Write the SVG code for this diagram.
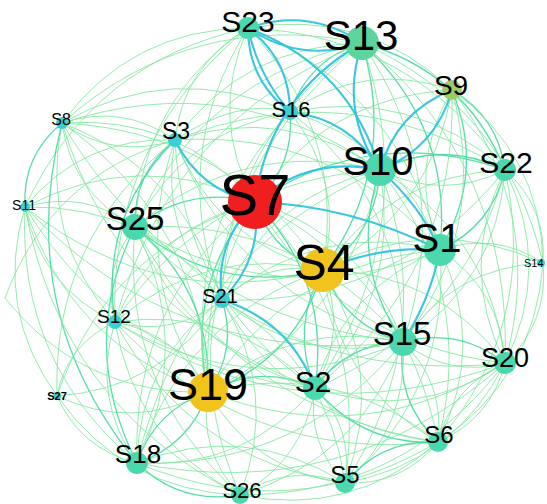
<svg xmlns="http://www.w3.org/2000/svg" width="547" height="504" viewBox="0 0 547 504">
  <style>
    .e path { fill: none; stroke-linecap: round; }
    .g { stroke: #80e89e; stroke-width: 1; opacity: 0.85; }
    .t { stroke: #44d8a0; stroke-width: 1.3; opacity: 0.9; }
    .c { stroke: #2fc3dc; stroke-width: 2.1; opacity: 0.95; }
    text { font-family: "Liberation Sans", Arial, sans-serif; fill: #000; text-anchor: middle; }
    .red { fill: #f01e1e; }
    .gold { fill: #f0c31d; }
    .olive { fill: #9fcb66; }
    .jade { fill: #5dd49b; }
    .teal { fill: #4bd8ae; }
    .cyan { fill: #3bcfd4; }
  </style>
  <rect width="547" height="504" fill="#fff"/>

  <!-- connectors -->
  <g id="edges" class="e">
    <!-- light curved links -->
    <path class="g" d="M248 28 Q208 117 255 202"/>
    <path class="t" d="M255 202 Q295 166 290 112"/>
    <path class="g" d="M255 202 Q178 114 62 123"/>
    <path class="g" d="M255 202 Q139 147 25 207"/>
    <path class="t" d="M255 202 Q189 185 135 227"/>
    <path class="g" d="M255 202 Q155 227 115 322"/>
    <path class="t" d="M255 202 Q184 285 208 392"/>
    <path class="t" d="M315 388 Q331 280 255 202"/>
    <path class="t" d="M255 202 Q272 253 323 270"/>
    <path class="g" d="M403 342 Q364 235 255 202"/>
    <path class="g" d="M255 202 Q340 345 505 363"/>
    <path class="g" d="M438 442 Q406 276 255 202"/>
    <path class="t" d="M505 170 Q372 124 255 202"/>
    <path class="g" d="M452 90 Q325 97 255 202"/>
    <path class="g" d="M255 202 Q131 303 137 463"/>
    <path class="g" d="M345 483 Q370 320 255 202"/>
    <path class="g" d="M255 202 Q174 345 240 495"/>
    <path class="g" d="M255 202 Q107 250 57 396"/>

    <path class="g" d="M323 270 Q346 130 248 28"/>
    <path class="t" d="M323 270 Q399 166 362 43"/>
    <path class="g" d="M175 140 Q216 242 323 270"/>
    <path class="g" d="M323 270 Q229 131 62 123"/>
    <path class="g" d="M25 207 Q158 313 323 270"/>
    <path class="t" d="M135 227 Q218 296 323 270"/>
    <path class="g" d="M323 270 Q206 244 115 322"/>
    <path class="g" d="M323 270 Q265 260 222 300"/>
    <path class="t" d="M208 392 Q296 360 323 270"/>
    <path class="t" d="M323 270 Q290 327 315 388"/>
    <path class="g" d="M315 388 Q348 331 323 270"/>
    <path class="t" d="M323 270 Q345 326 403 342"/>
    <path class="g" d="M505 363 Q437 271 323 270"/>
    <path class="g" d="M323 270 Q337 385 438 442"/>
    <path class="g" d="M345 483 Q387 371 323 270"/>
    <path class="g" d="M505 170 Q389 175 323 270"/>
    <path class="g" d="M323 270 Q432 212 452 90"/>
    <path class="g" d="M323 270 Q182 320 137 463"/>
    <path class="g" d="M543 263 Q431 212 323 270"/>
    <path class="t" d="M323 270 Q376 234 380 170"/>
    <path class="g" d="M323 270 Q346 183 290 112"/>

    <path class="g" d="M175 140 Q128 274 208 392"/>
    <path class="g" d="M208 392 Q202 221 62 123"/>
    <path class="g" d="M25 207 Q70 345 208 392"/>
    <path class="t" d="M208 392 Q213 291 135 227"/>
    <path class="g" d="M208 392 Q179 334 115 322"/>
    <path class="g" d="M57 396 Q133 432 208 392"/>
    <path class="t" d="M208 392 Q155 410 137 463"/>
    <path class="t" d="M137 463 Q190 445 208 392"/>
    <path class="g" d="M208 392 Q198 451 240 495"/>
    <path class="g" d="M208 392 Q254 472 345 483"/>
    <path class="g" d="M438 442 Q335 360 208 392"/>
    <path class="t" d="M315 388 Q260 363 208 392"/>
    <path class="g" d="M403 342 Q293 318 208 392"/>
    <path class="g" d="M208 392 Q364 452 505 363"/>
    <path class="g" d="M440 250 Q288 263 208 392"/>
    <path class="g" d="M208 392 Q349 324 380 170"/>
    <path class="t" d="M208 392 Q238 349 222 300"/>
    <path class="g" d="M222 300 Q192 342 208 392"/>
    <path class="g" d="M362 43 Q198 179 208 392"/>
    <path class="g" d="M290 112 Q179 231 208 392"/>

    <path class="g" d="M362 43 Q244 45 175 140"/>
    <path class="g" d="M362 43 Q192 8 62 123"/>
    <path class="t" d="M362 43 Q309 59 290 112"/>
    <path class="t" d="M505 170 Q465 71 362 43"/>
    <path class="t" d="M440 250 Q453 127 362 43"/>
    <path class="g" d="M362 43 Q202 78 135 227"/>
    <path class="g" d="M403 342 Q457 182 362 43"/>
    <path class="g" d="M505 363 Q513 167 362 43"/>
    <path class="g" d="M543 263 Q507 108 362 43"/>
    <path class="g" d="M362 43 Q169 121 115 322"/>
    <path class="g" d="M362 43 Q228 136 222 300"/>
    <path class="g" d="M315 388 Q425 227 362 43"/>

    <path class="g" d="M380 170 Q285 104 175 140"/>
    <path class="g" d="M380 170 Q243 137 135 227"/>
    <path class="t" d="M505 170 Q442 139 380 170"/>
    <path class="g" d="M380 170 Q442 201 505 170"/>
    <path class="t" d="M380 170 Q348 262 403 342"/>
    <path class="g" d="M505 363 Q491 235 380 170"/>
    <path class="g" d="M315 388 Q402 295 380 170"/>
    <path class="g" d="M438 442 Q477 291 380 170"/>
    <path class="g" d="M380 170 Q209 180 115 322"/>
    <path class="g" d="M380 170 Q268 195 222 300"/>
    <path class="g" d="M345 483 Q441 335 380 170"/>
    <path class="g" d="M380 170 Q185 256 137 463"/>
    <path class="g" d="M380 170 Q233 67 62 123"/>

    <path class="t" d="M440 250 Q486 173 452 90"/>
    <path class="g" d="M452 90 Q406 167 440 250"/>
    <path class="t" d="M440 250 Q492 226 505 170"/>
    <path class="g" d="M543 263 Q495 231 440 250"/>
    <path class="g" d="M505 363 Q501 290 440 250"/>
    <path class="g" d="M438 442 Q487 346 440 250"/>
    <path class="g" d="M440 250 Q343 288 315 388"/>
    <path class="g" d="M135 227 Q282 315 440 250"/>
    <path class="g" d="M440 250 Q335 129 175 140"/>
    <path class="g" d="M440 250 Q318 220 222 300"/>
    <path class="g" d="M345 483 Q451 390 440 250"/>
    <path class="g" d="M440 250 Q399 143 290 112"/>

    <path class="g" d="M62 123 Q72 193 135 227"/>
    <path class="g" d="M135 227 Q85 189 25 207"/>
    <path class="t" d="M175 140 Q133 173 135 227"/>
    <path class="g" d="M135 227 Q101 269 115 322"/>
    <path class="g" d="M137 463 Q195 344 135 227"/>
    <path class="t" d="M135 227 Q77 345 137 463"/>
    <path class="g" d="M135 227 Q185 352 315 388"/>
    <path class="g" d="M403 342 Q298 217 135 227"/>
    <path class="g" d="M135 227 Q120 387 240 495"/>
    <path class="g" d="M290 112 Q184 131 135 227"/>
    <path class="g" d="M248 28 Q142 99 135 227"/>
    <path class="g" d="M135 227 Q286 387 505 363"/>
    <path class="g" d="M135 227 Q233 410 438 442"/>

    <path class="g" d="M248 28 Q131 29 62 123"/>
    <path class="g" d="M248 28 Q183 66 175 140"/>
    <path class="g" d="M248 28 Q92 62 25 207"/>
    <path class="g" d="M452 90 Q365 8 248 28"/>
    <path class="g" d="M505 170 Q412 35 248 28"/>
    <path class="g" d="M248 28 Q108 142 115 322"/>
    <path class="g" d="M440 250 Q399 91 248 28"/>
    <path class="g" d="M248 28 Q167 157 222 300"/>

    <path class="t" d="M505 170 Q498 117 452 90"/>
    <path class="g" d="M543 263 Q541 154 452 90"/>
    <path class="g" d="M403 342 Q490 228 452 90"/>
    <path class="g" d="M452 90 Q365 60 290 112"/>
    <path class="g" d="M505 363 Q547 213 452 90"/>
    <path class="g" d="M315 388 Q458 273 452 90"/>

    <path class="t" d="M505 363 Q459 327 403 342"/>
    <path class="g" d="M403 342 Q449 378 505 363"/>
    <path class="t" d="M403 342 Q395 401 438 442"/>
    <path class="g" d="M438 442 Q445 383 403 342"/>
    <path class="t" d="M403 342 Q347 343 315 388"/>
    <path class="g" d="M345 483 Q409 427 403 342"/>
    <path class="g" d="M115 322 Q254 404 403 342"/>
    <path class="g" d="M222 300 Q302 366 403 342"/>
    <path class="g" d="M137 463 Q300 469 403 342"/>
    <path class="g" d="M543 263 Q453 267 403 342"/>
    <path class="g" d="M403 342 Q497 281 505 170"/>
    <path class="g" d="M175 140 Q238 298 403 342"/>
    <path class="g" d="M62 123 Q178 318 403 342"/>
    <path class="g" d="M25 207 Q180 369 403 342"/>
    <path class="g" d="M403 342 Q404 199 290 112"/>

    <path class="t" d="M315 388 Q363 446 438 442"/>
    <path class="g" d="M315 388 Q306 443 345 483"/>
    <path class="g" d="M345 483 Q354 428 315 388"/>
    <path class="g" d="M240 495 Q304 460 315 388"/>
    <path class="g" d="M137 463 Q245 470 315 388"/>
    <path class="g" d="M315 388 Q231 305 115 322"/>
    <path class="g" d="M315 388 Q416 423 505 363"/>
    <path class="g" d="M175 140 Q183 299 315 388"/>
    <path class="g" d="M315 388 Q464 326 505 170"/>

    <path class="t" d="M62 123 Q22 156 25 207"/>
    <path class="g" d="M175 140 Q123 103 62 123"/>
    <path class="g" d="M62 123 Q114 160 175 140"/>
    <path class="g" d="M62 123 Q39 236 115 322"/>
    <path class="g" d="M222 300 Q186 171 62 123"/>
    <path class="g" d="M290 112 Q173 60 62 123"/>
    <path class="t" d="M62 123 Q14 312 137 463"/>
    <path class="g" d="M62 123 Q122 319 315 388"/>

    <path class="g" d="M25 207 Q41 287 115 322"/>
    <path class="g" d="M222 300 Q147 204 25 207"/>
    <path class="g" d="M175 140 Q83 136 25 207"/>
    <path class="g" d="M25 207 Q17 363 137 463"/>
    <path class="g" d="M25 207 Q125 370 315 388"/>
    <path class="g" d="M25 207 Q60 405 240 495"/>

    <path class="g" d="M115 322 Q91 398 137 463"/>
    <path class="g" d="M115 322 Q174 338 222 300"/>
    <path class="g" d="M115 322 Q67 344 57 396"/>
    <path class="g" d="M115 322 Q190 460 345 483"/>
    <path class="g" d="M115 322 Q246 463 438 442"/>
    <path class="g" d="M115 322 Q300 440 505 363"/>
    <path class="g" d="M115 322 Q134 440 240 495"/>

    <path class="t" d="M137 463 Q180 505 240 495"/>
    <path class="g" d="M345 483 Q246 421 137 463"/>
    <path class="g" d="M57 396 Q80 449 137 463"/>
    <path class="g" d="M137 463 Q293 528 438 442"/>
    <path class="g" d="M137 463 Q346 505 505 363"/>

    <path class="g" d="M345 483 Q289 463 240 495"/>
    <path class="g" d="M240 495 Q352 518 438 442"/>
    <path class="g" d="M240 495 Q405 495 505 363"/>
    <path class="g" d="M240 495 Q360 459 403 342"/>
    <path class="g" d="M240 495 Q280 393 222 300"/>

    <path class="g" d="M438 442 Q491 419 505 363"/>
    <path class="g" d="M505 363 Q452 386 438 442"/>
    <path class="t" d="M438 442 Q381 439 345 483"/>
    <path class="g" d="M345 483 Q402 486 438 442"/>
    <path class="g" d="M438 442 Q535 379 543 263"/>
    <path class="g" d="M345 483 Q455 463 505 363"/>

    <path class="g" d="M505 363 Q549 322 543 263"/>
    <path class="g" d="M505 363 Q553 266 505 170"/>
    <path class="g" d="M505 170 Q457 266 505 363"/>
    <path class="g" d="M543 263 Q547 207 505 170"/>
    <path class="g" d="M505 170 Q412 87 290 112"/>
    <path class="g" d="M505 170 Q347 72 175 140"/>
    <path class="g" d="M222 300 Q396 306 505 170"/>
    <path class="g" d="M438 442 Q539 323 505 170"/>

    <path class="g" d="M25 207 Q-6 309 57 396"/>
    <path class="g" d="M57 396 Q124 491 240 495"/>
    <path class="g" d="M57 396 Q163 389 222 300"/>
    <path class="g" d="M175 140 Q52 238 57 396"/>
    <path class="g" d="M175 140 Q50 176 5 298"/>
    <path class="g" d="M5 298 Q83 396 208 392"/>

    <path class="g" d="M290 112 Q239 97 175 140"/>
    <path class="t" d="M175 140 Q99 216 115 322"/>
    <path class="g" d="M175 140 Q158 232 222 300"/>
    <path class="g" d="M345 483 Q329 361 222 300"/>
    <path class="g" d="M222 300 Q294 425 438 442"/>
    <path class="g" d="M222 300 Q139 360 137 463"/>

    <!-- strong links -->
    <path class="c" d="M248 28 Q248 80 290 112"/>
    <path class="c" d="M290 112 Q290 60 248 28"/>
    <path class="c" d="M248 28 Q258 75 290 112"/>
    <path class="c" d="M362 43 Q309 7 248 28"/>
    <path class="c" d="M248 28 Q301 64 362 43"/>
    <path class="c" d="M248 28 Q349 66 380 170"/>
    <path class="c" d="M362 43 Q269 96 255 202"/>
    <path class="c" d="M362 43 Q339 111 380 170"/>
    <path class="c" d="M452 90 Q396 112 380 170"/>
    <path class="c" d="M452 90 Q436 148 380 170"/>
    <path class="c" d="M255 202 Q214 243 222 300"/>
    <path class="c" d="M255 202 Q263 259 222 300"/>
    <path class="c" d="M175 140 Q200 191 255 202"/>
    <path class="c" d="M255 202 Q350 205 440 250"/>
    <path class="c" d="M290 112 Q349 118 380 170"/>
    <path class="c" d="M222 300 Q290 321 315 388"/>
    <path class="c" d="M440 250 Q430 300 403 342"/>
    <path class="c" d="M380 170 Q420 205 440 250"/>
    <path class="c" d="M323 270 Q380 245 440 250"/>
    <path class="c" d="M380 170 Q309 155 255 202"/>
  </g>

  <!-- nodes -->
  <g id="n-S23"><circle class="teal" cx="248" cy="28" r="11"/><text x="248" y="32" font-size="30">S23</text></g>
  <g id="n-S13"><circle class="jade" cx="362" cy="43" r="17"/><text x="361" y="50" font-size="42">S13</text></g>
  <g id="n-S9"><circle class="olive" cx="452" cy="90" r="10"/><text x="451" y="95" font-size="28">S9</text></g>
  <g id="n-S16"><circle class="cyan" cx="290" cy="112" r="8"/><text x="291" y="117" font-size="22">S16</text></g>
  <g id="n-S8"><circle class="cyan" cx="62" cy="123" r="6"/><text x="61" y="125" font-size="16">S8</text></g>
  <g id="n-S3"><circle class="cyan" cx="175" cy="140" r="7"/><text x="176" y="139" font-size="23">S3</text></g>
  <g id="n-S10"><circle class="teal" cx="380" cy="170" r="16"/><text x="378" y="175" font-size="40">S10</text></g>
  <g id="n-S22"><circle class="teal" cx="505" cy="170" r="11"/><text x="506" y="173" font-size="30">S22</text></g>
  <g id="n-S11"><circle class="cyan" cx="25" cy="207" r="5"/><text x="24" y="210" font-size="14">S11</text></g>
  <g id="n-S25"><circle class="teal" cx="135" cy="227" r="13"/><text x="135" y="230" font-size="33">S25</text></g>
  <g id="n-S7"><circle class="red" cx="255" cy="202" r="27"/><text x="255" y="215" font-size="58">S7</text></g>
  <g id="n-S1"><circle class="teal" cx="440" cy="250" r="16"/><text x="437" y="252" font-size="40">S1</text></g>
  <g id="n-S14"><circle class="cyan" cx="541" cy="263" r="4"/><text x="524" y="267" font-size="11" style="text-anchor:start">S14</text></g>
  <g id="n-S4"><circle class="gold" cx="323" cy="270" r="22"/><text x="324" y="280" font-size="50">S4</text></g>
  <g id="n-S21"><circle class="cyan" cx="222" cy="300" r="8"/><text x="220" y="303" font-size="20">S21</text></g>
  <g id="n-S12"><circle class="cyan" cx="115" cy="322" r="7"/><text x="114" y="323" font-size="19">S12</text></g>
  <g id="n-S15"><circle class="teal" cx="403" cy="342" r="14"/><text x="402" y="345" font-size="33">S15</text></g>
  <g id="n-S20"><circle class="teal" cx="505" cy="363" r="11"/><text x="505" y="367" font-size="27">S20</text></g>
  <g id="n-S19"><circle class="gold" cx="208" cy="392" r="20"/><text x="208" y="400" font-size="45">S19</text></g>
  <g id="n-S2"><circle class="teal" cx="315" cy="388" r="12"/><text x="313" y="392" font-size="30">S2</text></g>
  <g id="n-S27"><circle class="cyan" cx="57" cy="396" r="4"/><text x="57" y="400" font-size="11" font-weight="bold">S27</text></g>
  <g id="n-S6"><circle class="teal" cx="438" cy="442" r="10"/><text x="439" y="443" font-size="24">S6</text></g>
  <g id="n-S18"><circle class="teal" cx="137" cy="463" r="11"/><text x="138" y="463" font-size="26">S18</text></g>
  <g id="n-S5"><circle class="teal" cx="345" cy="483" r="10"/><text x="345" y="483" font-size="24">S5</text></g>
  <g id="n-S26"><circle class="teal" cx="240" cy="495" r="9"/><text x="242" y="498" font-size="22">S26</text></g>
</svg>
